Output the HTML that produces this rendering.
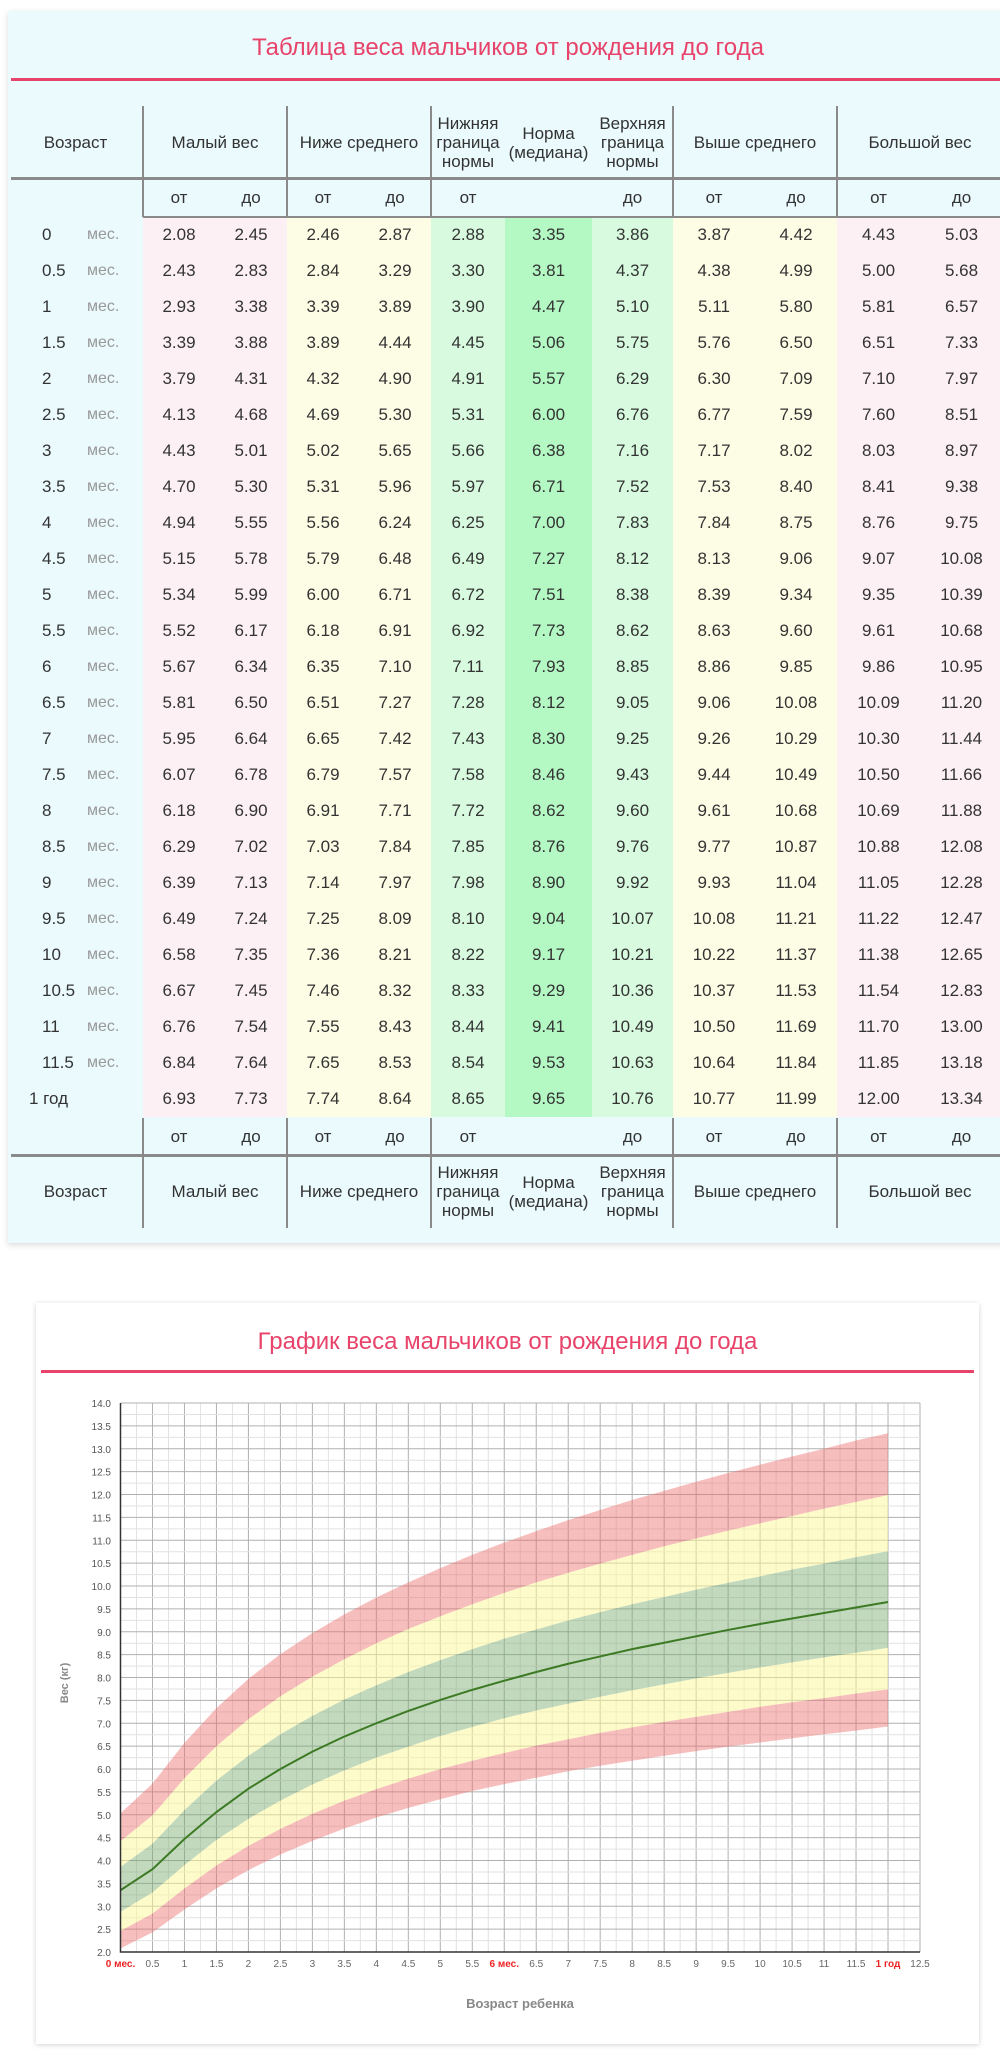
<!DOCTYPE html>
<html><head><meta charset="utf-8">
<style>
body{margin:0;width:1000px;height:2060px;background:#fff;position:relative;overflow:hidden;font-family:"Liberation Sans","DejaVu Sans",sans-serif;}
.abs{position:absolute;}
#tcard{left:8px;top:11px;width:1000px;height:1232px;background:#eafafd;box-shadow:0 2px 6px rgba(0,0,0,.15);}
.t1{color:#e8436a;font-size:24px;text-align:center;}
.cell{position:absolute;height:36px;line-height:36px;text-align:center;font-size:17px;color:#333;}
.hd{position:absolute;display:flex;align-items:center;justify-content:center;text-align:center;font-size:17px;color:#333;line-height:19px;}
.vl{position:absolute;width:2px;background:#8a8a8a;}
#ccard{left:36px;top:1303px;width:943px;height:741px;background:#fff;box-shadow:0 1px 5px rgba(0,0,0,.18);}
</style></head><body>
<div id="tcard" class="abs"></div>
<div class="abs t1" style="left:8px;top:34px;width:1000px;">Таблица веса мальчиков от рождения до года</div>
<div class="abs" style="left:11px;top:78px;width:1000px;height:3px;background:#e8436a;"></div>
<div id="table"></div>

<div id="ccard" class="abs"></div>
<div class="abs t1" style="left:36px;top:1328px;width:943px;">График веса мальчиков от рождения до года</div>
<div class="abs" style="left:41px;top:1370px;width:933px;height:3px;background:#e8436a;"></div>
<svg id="chart" class="abs" style="left:0;top:0" width="1000" height="2060"></svg>

<script>
const ageLabels=["0","0.5","1","1.5","2","2.5","3","3.5","4","4.5","5","5.5","6","6.5","7","7.5","8","8.5","9","9.5","10","10.5","11","11.5","1 год"];
const tableRows=[
["2.08","2.45","2.46","2.87","2.88","3.35","3.86","3.87","4.42","4.43","5.03"],
["2.43","2.83","2.84","3.29","3.30","3.81","4.37","4.38","4.99","5.00","5.68"],
["2.93","3.38","3.39","3.89","3.90","4.47","5.10","5.11","5.80","5.81","6.57"],
["3.39","3.88","3.89","4.44","4.45","5.06","5.75","5.76","6.50","6.51","7.33"],
["3.79","4.31","4.32","4.90","4.91","5.57","6.29","6.30","7.09","7.10","7.97"],
["4.13","4.68","4.69","5.30","5.31","6.00","6.76","6.77","7.59","7.60","8.51"],
["4.43","5.01","5.02","5.65","5.66","6.38","7.16","7.17","8.02","8.03","8.97"],
["4.70","5.30","5.31","5.96","5.97","6.71","7.52","7.53","8.40","8.41","9.38"],
["4.94","5.55","5.56","6.24","6.25","7.00","7.83","7.84","8.75","8.76","9.75"],
["5.15","5.78","5.79","6.48","6.49","7.27","8.12","8.13","9.06","9.07","10.08"],
["5.34","5.99","6.00","6.71","6.72","7.51","8.38","8.39","9.34","9.35","10.39"],
["5.52","6.17","6.18","6.91","6.92","7.73","8.62","8.63","9.60","9.61","10.68"],
["5.67","6.34","6.35","7.10","7.11","7.93","8.85","8.86","9.85","9.86","10.95"],
["5.81","6.50","6.51","7.27","7.28","8.12","9.05","9.06","10.08","10.09","11.20"],
["5.95","6.64","6.65","7.42","7.43","8.30","9.25","9.26","10.29","10.30","11.44"],
["6.07","6.78","6.79","7.57","7.58","8.46","9.43","9.44","10.49","10.50","11.66"],
["6.18","6.90","6.91","7.71","7.72","8.62","9.60","9.61","10.68","10.69","11.88"],
["6.29","7.02","7.03","7.84","7.85","8.76","9.76","9.77","10.87","10.88","12.08"],
["6.39","7.13","7.14","7.97","7.98","8.90","9.92","9.93","11.04","11.05","12.28"],
["6.49","7.24","7.25","8.09","8.10","9.04","10.07","10.08","11.21","11.22","12.47"],
["6.58","7.35","7.36","8.21","8.22","9.17","10.21","10.22","11.37","11.38","12.65"],
["6.67","7.45","7.46","8.32","8.33","9.29","10.36","10.37","11.53","11.54","12.83"],
["6.76","7.54","7.55","8.43","8.44","9.41","10.49","10.50","11.69","11.70","13.00"],
["6.84","7.64","7.65","8.53","8.54","9.53","10.63","10.64","11.84","11.85","13.18"],
["6.93","7.73","7.74","8.64","8.65","9.65","10.76","10.77","11.99","12.00","13.34"]];

const T=document.getElementById('table');
const edges=[143,215,287,359,431,505,592,673,755,837,920,1003];
const colBg=["#fcf0f5","#fcf0f5","#fdfde6","#fdfde6","#d8fbe0","#b4f8c4","#d8fbe0","#fdfde6","#fdfde6","#fcf0f5","#fcf0f5"];
const rowTop=217, rowH=36;
function mk(cls,style,txt){const d=document.createElement('div');d.className=cls;d.setAttribute('style',style);if(txt!==undefined)d.innerHTML=txt;T.appendChild(d);return d;}
// body backgrounds
for(let c=0;c<11;c++){
  const bg=mk('abs',`left:${edges[c]}px;top:${rowTop}px;width:${edges[c+1]-edges[c]}px;height:${rowH*25}px;background:${colBg[c]}`);
  
  
}
for(let r=0;r<25;r++){
  const y=rowTop+r*rowH;
  if(r<24){
    const a=mk('cell',`left:42px;top:${y}px;text-align:left;`,ageLabels[r]);
    
    
    const m=mk('cell',`left:87px;top:${y}px;text-align:left;color:#999;font-size:16px;`,'мес.');
    
    
  } else {
    const a=mk('cell',`left:29px;top:${y}px;text-align:left;`,ageLabels[r]);
    
    
  }
  for(let c=0;c<11;c++){
    const v=mk('cell',`left:${edges[c]}px;top:${y}px;width:${edges[c+1]-edges[c]}px;`,tableRows[r][c]);
    
    
  }
}
// headers
function header(top,h,ofTop){
  const hs=[[8,143,'Возраст'],[143,287,'Малый вес'],[287,431,'Ниже среднего'],[431,505,'Нижняя<br>граница<br>нормы'],[505,592,'Норма<br>(медиана)'],[592,673,'Верхняя<br>граница<br>нормы'],[673,837,'Выше среднего'],[837,1003,'Большой вес']];
  hs.forEach(h2=>{const d=mk('hd',`left:${h2[0]}px;top:${top}px;width:${h2[1]-h2[0]}px;height:${h}px;`,h2[2]);
    
    });
  const ot=[[143,215,'от'],[215,287,'до'],[287,359,'от'],[359,431,'до'],[431,505,'от'],[592,673,'до'],[673,755,'от'],[755,837,'до'],[837,920,'от'],[920,1003,'до']];
  ot.forEach(o=>{const d=mk('cell',`left:${o[0]}px;top:${ofTop}px;width:${o[1]-o[0]}px;height:38px;line-height:38px;`,o[2]);
    
    });
}
header(106,73,179);
header(1155,73,1118);
[143,287,431,673,837].forEach(x=>{
  const a=mk('vl',`left:${x-1}px;top:106px;height:111px;`);
  
  
  const b=mk('vl',`left:${x-1}px;top:1118px;height:110px;`);
  
  
});
[[11,177,3],[143,216,2],[11,1154,3]].forEach(l=>{
  const d=mk('abs',`left:${l[0]}px;top:${l[1]}px;width:${1000-l[0]}px;height:${l[2]}px;background:#8a8a8a;`);
  
  
});

// ===== chart =====
const months=[0,0.5,1,1.5,2,2.5,3,3.5,4,4.5,5,5.5,6,6.5,7,7.5,8,8.5,9,9.5,10,10.5,11,11.5,12];
const lowMin=[2.08,2.43,2.93,3.39,3.79,4.13,4.43,4.70,4.94,5.15,5.34,5.52,5.67,5.81,5.95,6.07,6.18,6.29,6.39,6.49,6.58,6.67,6.76,6.84,6.93];
const belowMin=[2.46,2.84,3.39,3.89,4.32,4.69,5.02,5.31,5.56,5.79,6.00,6.18,6.35,6.51,6.65,6.79,6.91,7.03,7.14,7.25,7.36,7.46,7.55,7.65,7.74];
const normMin=[2.88,3.30,3.90,4.45,4.91,5.31,5.66,5.97,6.25,6.49,6.72,6.92,7.11,7.28,7.43,7.58,7.72,7.85,7.98,8.10,8.22,8.33,8.44,8.54,8.65];
const median=[3.35,3.81,4.47,5.06,5.57,6.00,6.38,6.71,7.00,7.27,7.51,7.73,7.93,8.12,8.30,8.46,8.62,8.76,8.90,9.04,9.17,9.29,9.41,9.53,9.65];
const normMax=[3.86,4.37,5.10,5.75,6.29,6.76,7.16,7.52,7.83,8.12,8.38,8.62,8.85,9.05,9.25,9.43,9.60,9.76,9.92,10.07,10.21,10.36,10.49,10.63,10.76];
const aboveMax=[4.42,4.99,5.80,6.50,7.09,7.59,8.02,8.40,8.75,9.06,9.34,9.60,9.85,10.08,10.29,10.49,10.68,10.87,11.04,11.21,11.37,11.53,11.69,11.84,11.99];
const bigMax=[5.03,5.68,6.57,7.33,7.97,8.51,8.97,9.38,9.75,10.08,10.39,10.68,10.95,11.20,11.44,11.66,11.88,12.08,12.28,12.47,12.65,12.83,13.00,13.18,13.34];
const xTicks=["0 мес.","0.5","1","1.5","2","2.5","3","3.5","4","4.5","5","5.5","6 мес.","6.5","7","7.5","8","8.5","9","9.5","10","10.5","11","11.5","1 год","12.5"];
const yTicks=["2.0","2.5","3.0","3.5","4.0","4.5","5.0","5.5","6.0","6.5","7.0","7.5","8.0","8.5","9.0","9.5","10.0","10.5","11.0","11.5","12.0","12.5","13.0","13.5","14.0"];

const X0=120.5,X1=920,Y0=1952,Y1=1403,XMAX=12.5,YMIN=2,YMAX=14;
const sx=v=>X0+(X1-X0)*v/XMAX;
const sy=v=>Y0-(Y0-Y1)*(v-YMIN)/(YMAX-YMIN);
const S=document.getElementById('chart');
const NS='http://www.w3.org/2000/svg';
function el(t,a){const e=document.createElementNS(NS,t);for(const k in a)e.setAttribute(k,a[k]);S.appendChild(e);return e;}
// grid
for(let i=0;i<=50;i++){const v=i*0.25;const major=i%2===0;
  const g=el('line',{x1:sx(v),x2:sx(v),y1:Y1,y2:Y0,stroke:major?'#b0b0b0':'#e2e2e2','stroke-width':1});
  
  }
for(let i=0;i<=48;i++){const v=YMIN+i*0.25;const major=i%2===0;
  const g=el('line',{x1:X0,x2:X1,y1:sy(v),y2:sy(v),stroke:major?'#b0b0b0':'#e2e2e2','stroke-width':1});
  
  }
function band(lo,hi,fill,name){
  let d='M'+months.map((m,i)=>sx(m)+','+sy(hi[i])).join('L');
  d+='L'+months.slice().reverse().map((m,j)=>{const i=months.length-1-j;return sx(m)+','+sy(lo[i]);}).join('L')+'Z';
  const p=el('path',{d:d,fill:fill});
  
  
}
band(lowMin,belowMin,'rgba(238,110,110,0.45)','band-low');
band(belowMin,normMin,'rgba(253,248,150,0.5)','band-below-average');
band(normMin,normMax,'rgba(120,170,110,0.45)','band-norm');
band(normMax,aboveMax,'rgba(253,248,150,0.5)','band-above-average');
band(aboveMax,bigMax,'rgba(238,110,110,0.45)','band-high');
const ml=el('polyline',{points:months.map((m,i)=>sx(m)+','+sy(median[i])).join(' '),fill:'none',stroke:'#3d7a24','stroke-width':2});


const ax=el('path',{d:`M${X0},${Y1}V${Y0}H${X1}`,stroke:'#333','stroke-width':1.5,fill:'none'});


xTicks.forEach((t,i)=>{const red=/[а-я]/.test(t);
  const e=el('text',{x:sx(i*0.5),y:1967,'text-anchor':'middle','font-size':10,fill:red?'#ee2222':'#666','font-weight':red?'bold':'normal','font-family':'Liberation Sans Narrow, Liberation Sans, sans-serif'});
  e.textContent=t;
  
  });
yTicks.forEach((t,i)=>{
  const e=el('text',{x:111,y:sy(YMIN+i*0.5)+4,'text-anchor':'end','font-size':10,fill:'#555','font-family':'Liberation Sans Narrow, Liberation Sans, sans-serif'});
  e.textContent=t;
  
  });
const xt=el('text',{x:520,y:2008,'text-anchor':'middle','font-size':13,'font-weight':'bold',fill:'#888'});
xt.textContent='Возраст ребенка';


const yt=el('text',{x:0,y:0,'text-anchor':'middle','font-size':11,'font-weight':'bold',fill:'#888',transform:'translate(68,1683) rotate(-90)'});
yt.textContent='Вес (кг)';


</script>
</body></html>
